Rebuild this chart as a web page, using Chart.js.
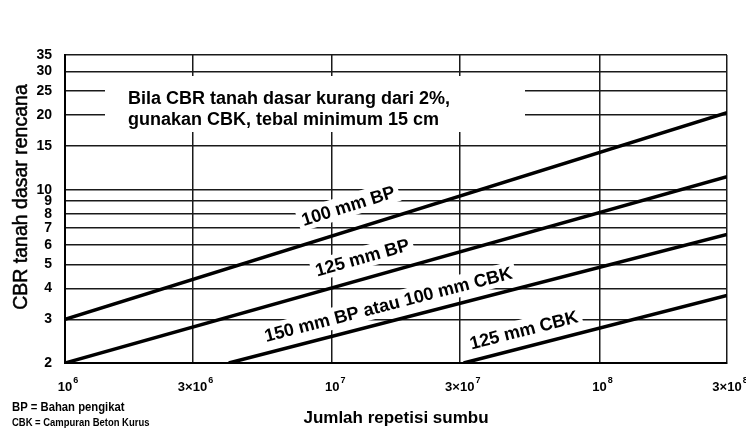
<!DOCTYPE html>
<html>
<head>
<meta charset="utf-8">
<script src="https://cdn.jsdelivr.net/npm/chart.js@4.4.0/dist/chart.umd.min.js"></script>
<style>
  html, body { margin: 0; padding: 0; background: #fff; overflow: hidden; }
  #wrap { width: 760px; height: 447px; position: relative; }
</style>
</head>
<body>
<div id="wrap"><canvas id="cbrChart"></canvas></div>
<script>
// Chart values
const seriesNames = ['100 mm BP', '125 mm BP', '150 mm BP atau 100 mm CBK', '125 mm CBK'];
const bp100X = [1e6, 3e8];
const bp100Y = [3, 20.5];
const bp125X = [1e6, 3e8];
const bp125Y = [2, 11.3];
const bp150X = [4.1e6, 3e8];
const bp150Y = [2, 6.6];
const cbk125X = [3.1e7, 3e8];
const cbk125Y = [2, 3.75];

const xTickValues = [1e6, 3e6, 1e7, 3e7, 1e8, 3e8];
const xTickLabels = ['10\u2076', '3\u00d710\u2076', '10\u2077', '3\u00d710\u2077', '10\u2078', '3\u00d710\u2078'];
const yTickValues = [2, 3, 4, 5, 6, 7, 8, 9, 10, 15, 20, 25, 30, 35];

const xTitle = 'Jumlah repetisi sumbu';
const yTitle = 'CBR tanah dasar rencana';
const noteLines = ['Bila CBR tanah dasar kurang dari 2%,', 'gunakan CBK, tebal minimum 15 cm'];
const legendLines = ['BP = Bahan pengikat', 'CBK = Campuran Beton Kurus'];

// where each line label sits (x value along the line) and how far above it
const labelAnchors = [1.22e7, 1.36e7, 1.68e7, 5.4e7];
const labelOffsets = [24, 21, 17, 17];

const sans = "'Liberation Sans', Arial, sans-serif";
const supDigits = { '\u2076': '6', '\u2077': '7', '\u2078': '8' };

function toPoints(xs, ys) {
  return xs.map((x, i) => ({ x: x, y: ys[i] }));
}

const lineStyle = {
  borderColor: '#000',
  borderWidth: 3.5,
  pointRadius: 0,
  showLine: true,
  fill: false
};

const datasets = [
  { label: seriesNames[0], data: toPoints(bp100X, bp100Y), ...lineStyle },
  { label: seriesNames[1], data: toPoints(bp125X, bp125Y), ...lineStyle },
  { label: seriesNames[2], data: toPoints(bp150X, bp150Y), ...lineStyle },
  { label: seriesNames[3], data: toPoints(cbk125X, cbk125Y), ...lineStyle }
];

// squeezed text, the original uses a condensed face
function narrowText(ctx, text, x, y, squeeze) {
  ctx.save();
  ctx.translate(x, y);
  ctx.scale(squeeze, 1);
  ctx.fillText(text, 0, 0);
  ctx.restore();
}

// white panel behind the note, note text, y title, x tick labels, abbreviations
const notePlugin = {
  id: 'notePanel',
  beforeDatasetsDraw(chart) {
    const { ctx, chartArea } = chart;
    ctx.save();
    ctx.fillStyle = '#fff';
    ctx.fillRect(chartArea.left + 40, chartArea.top + 21, 420, 56);
    ctx.restore();
  },
  afterDraw(chart) {
    const { ctx, chartArea } = chart;
    const xs = chart.scales.x;
    ctx.save();
    ctx.fillStyle = '#000';
    ctx.textBaseline = 'middle';

    ctx.font = 'bold 18px ' + sans;
    ctx.fillText(noteLines[0], chartArea.left + 63, chartArea.top + 44);
    ctx.fillText(noteLines[1], chartArea.left + 63, chartArea.top + 65);

    // y axis title
    ctx.save();
    ctx.translate(22, 197);
    ctx.rotate(-Math.PI / 2);
    ctx.font = '19.5px ' + sans;
    ctx.textAlign = 'center';
    ctx.lineWidth = 0.5;
    ctx.strokeStyle = '#000';
    ctx.fillText(yTitle, 0, 0);
    ctx.strokeText(yTitle, 0, 0);
    ctx.restore();

    // x tick labels with raised exponent
    xTickValues.forEach((v, i) => {
      const lbl = xTickLabels[i];
      const base = lbl.slice(0, -1);
      const exp = supDigits[lbl.slice(-1)];
      ctx.font = 'bold 13px ' + sans;
      const bw = ctx.measureText(base).width;
      ctx.font = 'bold 9px ' + sans;
      const ew = ctx.measureText(exp).width;
      const left = xs.getPixelForValue(v) + 3 - (bw + ew + 1) / 2;
      ctx.font = 'bold 13px ' + sans;
      ctx.textAlign = 'left';
      ctx.fillText(base, left, 387);
      ctx.font = 'bold 9px ' + sans;
      ctx.fillText(exp, left + bw + 1, 381);
    });

    // abbreviations under the chart
    ctx.textAlign = 'left';
    ctx.font = 'bold 12px ' + sans;
    narrowText(ctx, legendLines[0], 12, 408, 0.94);
    ctx.font = 'bold 11px ' + sans;
    narrowText(ctx, legendLines[1], 12, 423, 0.86);
    ctx.restore();
  }
};

// rotated labels sitting on top of each line
const lineLabelPlugin = {
  id: 'lineLabels',
  afterDatasetsDraw(chart) {
    const { ctx } = chart;
    const xs = chart.scales.x;
    const ys = chart.scales.y;
    ctx.save();
    ctx.font = 'bold 18px ' + sans;
    ctx.textAlign = 'center';
    ctx.textBaseline = 'middle';
    chart.data.datasets.forEach((ds, i) => {
      const p0 = ds.data[0];
      const p1 = ds.data[ds.data.length - 1];
      const x0 = xs.getPixelForValue(p0.x), y0 = ys.getPixelForValue(p0.y);
      const x1 = xs.getPixelForValue(p1.x), y1 = ys.getPixelForValue(p1.y);
      const ang = Math.atan2(y1 - y0, x1 - x0);
      const px = xs.getPixelForValue(labelAnchors[i]);
      const py = y0 + (y1 - y0) * (px - x0) / (x1 - x0);
      const d = labelOffsets[i];
      const cx = px + d * Math.sin(ang);
      const cy = py - d * Math.cos(ang);
      ctx.save();
      ctx.translate(cx, cy);
      ctx.rotate(ang);
      const w = ctx.measureText(ds.label).width;
      ctx.fillStyle = '#fff';
      ctx.fillRect(-w / 2 - 4, -11, w + 8, 22);
      ctx.fillStyle = '#000';
      ctx.fillText(ds.label, 0, 1);
      ctx.restore();
    });
    ctx.restore();
  }
};

const ctx = document.getElementById('cbrChart').getContext('2d');
new Chart(ctx, {
  type: 'scatter',
  data: { datasets: datasets },
  plugins: [notePlugin, lineLabelPlugin],
  options: {
    responsive: true,
    maintainAspectRatio: false,
    animation: false,
    events: [],
    layout: { padding: { left: 8, top: 55, right: 33, bottom: 14 } },
    plugins: {
      legend: { display: false },
      tooltip: { enabled: false }
    },
    scales: {
      x: {
        type: 'logarithmic',
        min: 1e6,
        max: 3e8,
        afterBuildTicks(axis) {
          axis.ticks = xTickValues.map(v => ({ value: v }));
        },
        afterFit(axis) {
          axis.height = 70;
          axis.paddingLeft = 0;
          axis.paddingRight = 0;
        },
        ticks: {
          autoSkip: false,
          maxRotation: 0,
          padding: 12,
          color: 'rgba(0,0,0,0)', // drawn by the plugin with a raised exponent
          font: { family: sans, size: 12, weight: 'bold' },
          callback: (v, i) => xTickLabels[i]
        },
        grid: { color: '#1a1a1a', lineWidth: 1.5, drawTicks: false },
        border: { color: '#000', width: 2 },
        title: {
          display: true,
          text: xTitle,
          color: '#000',
          font: { family: sans, size: 17, weight: 'bold' },
          padding: { top: 12 }
        }
      },
      y: {
        type: 'logarithmic',
        min: 2,
        max: 35,
        afterBuildTicks(axis) {
          axis.ticks = yTickValues.map(v => ({ value: v }));
        },
        afterFit(axis) {
          axis.width = 57;
          axis.paddingTop = 0;
          axis.paddingBottom = 0;
        },
        ticks: {
          autoSkip: false,
          padding: 13,
          color: '#000',
          font: { family: sans, size: 14, weight: 'bold' },
          callback: v => String(v)
        },
        grid: { color: '#1a1a1a', lineWidth: 1.5, drawTicks: false },
        border: { color: '#000', width: 2 }
      }
    }
  }
});
</script>
</body>
</html>
